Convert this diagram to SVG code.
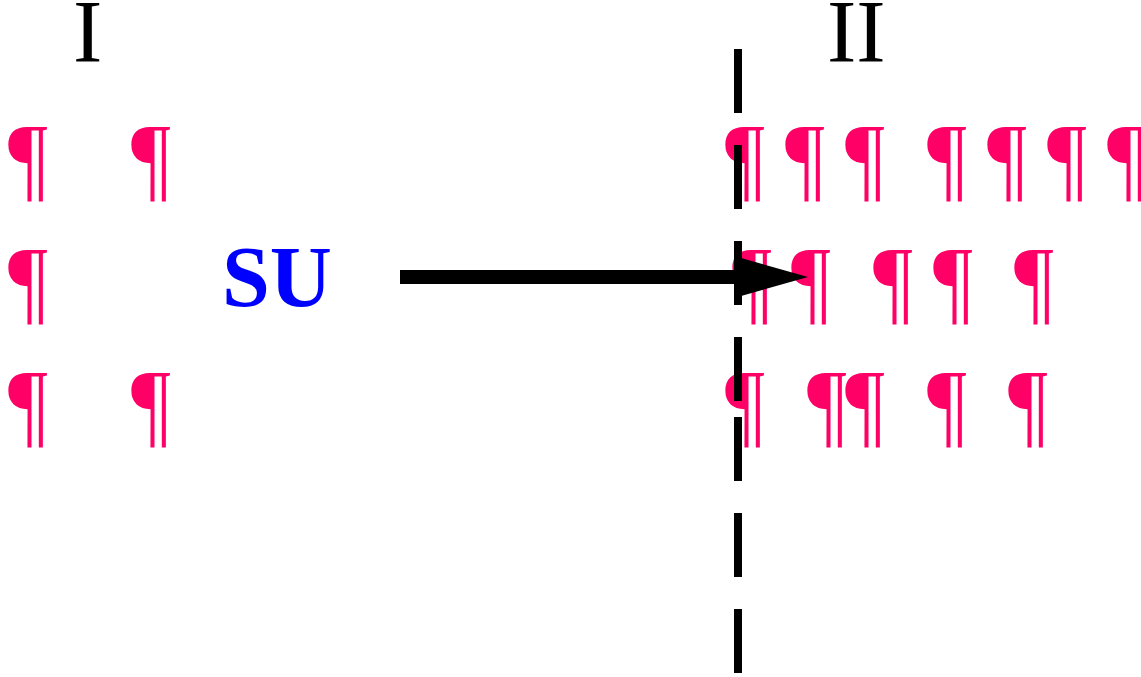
<svg xmlns="http://www.w3.org/2000/svg" width="1141" height="677" viewBox="0 0 1141 677">
<style>
.p{font-family:"Liberation Serif","Times New Roman",serif;font-size:88px;fill:#FF0066}
.lbl{font-family:"Liberation Serif","Times New Roman",serif;font-size:88px;fill:#000}
.su{font-family:"Liberation Serif","Times New Roman",serif;font-size:86px;font-weight:bold;fill:#0000FF}
</style>
<rect width="1141" height="677" fill="#fff"/>
<g id="label-I"><text class="lbl" x="73" y="61">I</text></g>
<g id="label-II"><text class="lbl" x="827" y="61">II</text></g>
<g id="label-SU"><text class="su" x="222" y="306">SU</text></g>
<g id="region-I">
<g transform="translate(0,190) scale(1,1.072)">
<text class="p" x="8" y="0">¶</text>
<text class="p" x="131" y="0">¶</text>
</g>
<g transform="translate(0,313) scale(1,1.072)">
<text class="p" x="8" y="0">¶</text>
</g>
<g transform="translate(0,436) scale(1,1.072)">
<text class="p" x="8" y="0">¶</text>
<text class="p" x="131" y="0">¶</text>
</g>
</g>
<g id="region-II">
<g transform="translate(0,190) scale(1,1.072)">
<text class="p" x="725" y="0">¶</text>
<text class="p" x="785" y="0">¶</text>
<text class="p" x="845" y="0">¶</text>
<text class="p" x="927" y="0">¶</text>
<text class="p" x="987" y="0">¶</text>
<text class="p" x="1047" y="0">¶</text>
<text class="p" x="1107" y="0">¶</text>
</g>
<g transform="translate(0,313) scale(1,1.072)">
<text class="p" x="732" y="0">¶</text>
<text class="p" x="791" y="0">¶</text>
<text class="p" x="873" y="0">¶</text>
<text class="p" x="933" y="0">¶</text>
<text class="p" x="1014" y="0">¶</text>
</g>
<g transform="translate(0,436) scale(1,1.072)">
<text class="p" x="725" y="0">¶</text>
<text class="p" x="807" y="0">¶</text>
<text class="p" x="845" y="0">¶</text>
<text class="p" x="927" y="0">¶</text>
<text class="p" x="1008" y="0">¶</text>
</g>
</g>
<g id="connectors">
<path d="M738 49V113M738 145V209M738 241V305M738 337V401M738 417V481M738 513V577M738 609V673" stroke="#000" stroke-width="8" fill="none"/>
<line x1="400" y1="277" x2="736" y2="277" stroke="#000" stroke-width="14"/>
<polygon points="734,256 808,277 734,298" fill="#000"/>
</g>
</svg>
